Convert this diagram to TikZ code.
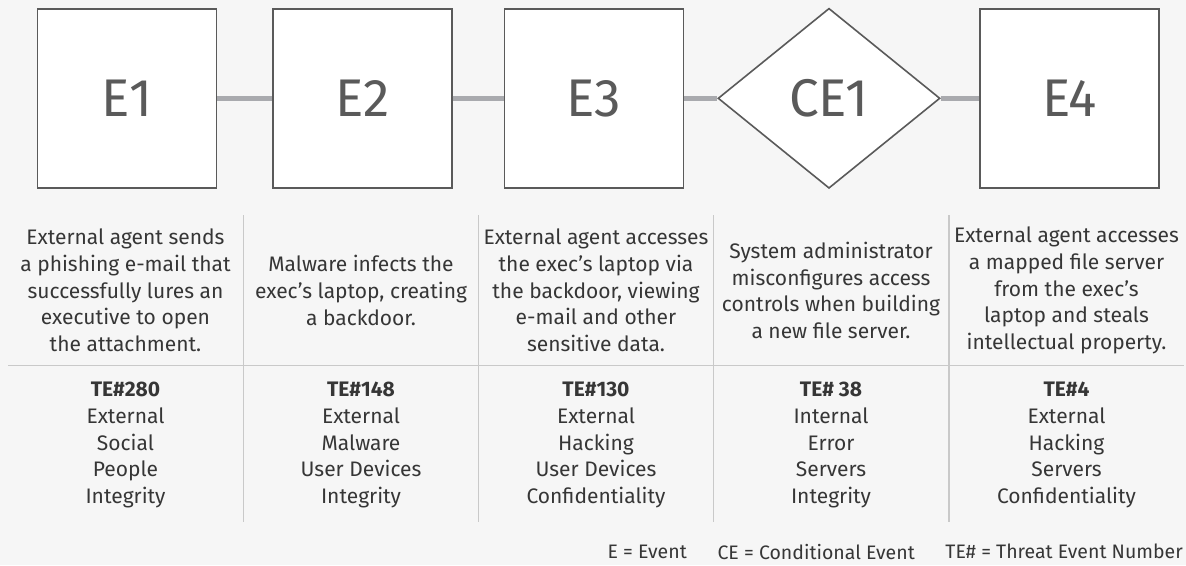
\documentclass[tikz,border=0pt]{standalone}
\usepackage{fontspec}
\setmainfont{Fira Sans}
\usetikzlibrary{shapes.geometric}

\definecolor{bggray}{HTML}{F6F6F6}
\definecolor{edgegray}{HTML}{5A5A5A}
\definecolor{linkgray}{HTML}{A9AAAE}
\definecolor{rulegray}{HTML}{C9C9C9}
\definecolor{txtgray}{HTML}{363636}

\tikzset{
  evbox/.style={draw=edgegray, fill=white, line width=1.6pt, minimum width=179pt,
                minimum height=179pt, inner sep=0pt, text=edgegray,
                font=\fontsize{53}{53}\selectfont},
  condbox/.style={diamond, draw=edgegray, fill=white, line width=1.6pt, minimum width=222pt,
                minimum height=180pt, inner sep=0pt, text=edgegray,
                font=\fontsize{53}{53}\selectfont},
  link/.style={draw=linkgray, line width=5pt},
  sep/.style={draw=rulegray, line width=1.2pt},
  desc/.style={align=center, text=txtgray, inner sep=0pt,
               font=\fontsize{21}{26.7}\selectfont},
  legend/.style={text=txtgray, inner sep=0pt, font=\fontsize{19.5}{22}\selectfont}
}

\begin{document}
\begin{tikzpicture}[x=1pt, y=-1pt]
    % background
    \fill[bggray] (0,0) rectangle (1186,565);

    % events
    \node[evbox] (e1) at (127,98.3) {E1};
    \node[evbox] (e2) at (362.4,98.3) {E2};
    \node[evbox] (e3) at (594,98.3) {E3};
    \node[condbox] (ce1) at (829,98.3) {CE1};
    \node[evbox] (e4) at (1069.5,98.3) {E4};

    % links
    \draw[link] (e1) -- (e2);
    \draw[link] (e2) -- (e3);
    \draw[link] (e3) -- (ce1);
    \draw[link] (ce1) -- (e4);

    % table rules
    \draw[sep] (8,365.7) -- (1184,365.7);
    \foreach \xs in {243.3,478.7,713.3,949}
      \draw[sep] (\xs,215) -- (\xs,521.7);

    % descriptions
    \node[desc] (d1) at (125.5,290.5) {External agent sends\\a phishing e-mail that\\successfully lures an\\executive to open\\the attachment.};
    \node[desc] (d2) at (361,290.5) {Malware infects the\\exec's laptop, creating\\a backdoor.};
    \node[desc] (d3) at (596,290.5) {External agent accesses\\the exec's laptop via\\the backdoor, viewing\\e-mail and other\\sensitive data.};
    \node[desc] (d4) at (831,290.5) {System administrator\\misconfigures access\\controls when building\\a new file server.};
    \node[desc] (d5) at (1066.5,290.5) {External agent accesses\\a mapped file server\\from the exec's\\laptop and steals\\intellectual property.};

    % threat events
    \node[desc] (t1) at (125.5,445) {\textbf{TE\#280}\\External\\Social\\People\\Integrity};
    \node[desc] (t2) at (361,445) {\textbf{TE\#148}\\External\\Malware\\User Devices\\Integrity};
    \node[desc] (t3) at (596,445) {\textbf{TE\#130}\\External\\Hacking\\User Devices\\Confidentiality};
    \node[desc] (t4) at (831,445) {\textbf{TE\# 38}\\Internal\\Error\\Servers\\Integrity};
    \node[desc] (t5) at (1066.5,445) {\textbf{TE\#4}\\External\\Hacking\\Servers\\Confidentiality};

    % legend
    \node[legend, anchor=east] (lg3) at (1183,551.7) {TE\# = Threat Event Number};
    \node[legend, anchor=east] (lg2) at (915,551.7) {CE = Conditional Event};
    \node[legend, anchor=east] (lg1) at (687,551.7) {E = Event};
\end{tikzpicture}
\end{document}
